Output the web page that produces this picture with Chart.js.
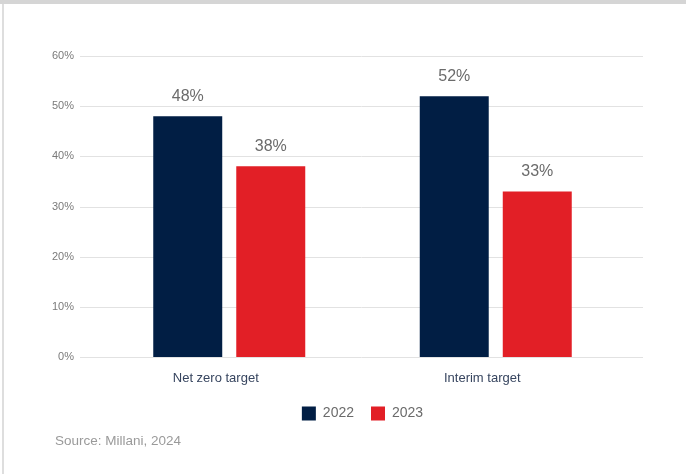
<!DOCTYPE html>
<html>
<head>
<meta charset="utf-8">
<script src="https://cdn.jsdelivr.net/npm/chart.js@4.4.1/dist/chart.umd.min.js"></script>
<style>
  html, body { margin: 0; padding: 0; background: #fff; }
  #wrap { position: relative; width: 686px; height: 474px; overflow: hidden; }
  #topBar { position: absolute; left: 0; top: 0; width: 686px; height: 4px; background: #d5d5d5; }
  #leftBar { position: absolute; left: 2px; top: 4px; width: 2px; height: 470px; background: #dedede; }
  #chart { position: absolute; left: 0; top: 0; }
  #source {
    position: absolute; left: 55px; top: 433px;
    font: 13.5px "Liberation Sans", Arial, sans-serif; color: #9a9a9a;
    line-height: 16px; white-space: nowrap;
  }
</style>
</head>
<body>
<div id="wrap">
  <div id="topBar"></div>
  <div id="leftBar"></div>
  <canvas id="chart" width="686" height="474"></canvas>
  <div id="source">Source: Millani, 2024</div>
</div>
<script>
const categories = ["Net zero target", "Interim target"];
const years = ["2022", "2023"];
const values2022 = [48, 52];
const values2023 = [38, 33];
const yTicks = [0, 10, 20, 30, 40, 50, 60];

const NAVY = "#011e44";
const RED = "#e21f26";

Chart.defaults.font.family = '"Liberation Sans", Arial, sans-serif';

// horizontal grid lines, running a bit past the plot area on both sides
const gridLines = {
  id: "gridLines",
  beforeDatasetsDraw(chart) {
    const { ctx, chartArea, scales } = chart;
    ctx.save();
    ctx.strokeStyle = "#e2e2e2";
    ctx.lineWidth = 1;
    yTicks.forEach((v) => {
      const y = Math.round(scales.y.getPixelForValue(v)) + 0.5;
      ctx.beginPath();
      ctx.moveTo(chartArea.left - 16, y);
      ctx.lineTo(chartArea.right + 14, y);
      ctx.stroke();
    });
    ctx.restore();
  },
};

// percentage labels above each bar
const barValues = {
  id: "barValues",
  afterDatasetsDraw(chart) {
    const { ctx } = chart;
    ctx.save();
    ctx.font = '16px "Liberation Sans", Arial, sans-serif';
    ctx.fillStyle = "#6b6b6b";
    ctx.textAlign = "center";
    ctx.textBaseline = "alphabetic";
    chart.data.datasets.forEach((ds, i) => {
      chart.getDatasetMeta(i).data.forEach((bar, j) => {
        ctx.fillText(ds.data[j] + "%", bar.x, bar.y - 15);
      });
    });
    ctx.restore();
  },
};

new Chart(document.getElementById("chart"), {
  type: "bar",
  data: {
    labels: categories,
    datasets: [
      { label: years[0], data: values2022, backgroundColor: NAVY },
      { label: years[1], data: values2023, backgroundColor: RED },
    ],
  },
  options: {
    responsive: false,
    animation: false,
    categoryPercentage: 0.623,
    barPercentage: 0.831,
    layout: { padding: { top: 56, right: 57, bottom: 43.5, left: 0 } },
    plugins: {
      tooltip: { enabled: false },
      legend: {
        position: "bottom",
        fullSize: false,
        labels: {
          boxWidth: 14,
          boxHeight: 14,
          padding: 17,
          color: "#6b6b6b",
          font: { size: 14 },
        },
      },
    },
    scales: {
      x: {
        grid: { display: false, drawTicks: false },
        border: { display: false },
        ticks: {
          color: "#37455f",
          font: { size: 13 },
          padding: 13.5,
          labelOffset: -13.5,
        },
        afterFit(scale) {
          scale.height = 32.5;
        },
      },
      y: {
        min: 0,
        max: 60,
        grid: { display: false, drawTicks: false },
        border: { display: false },
        ticks: {
          stepSize: 10,
          color: "#7a7a7a",
          font: { size: 11 },
          padding: 22,
          callback: (v) => v + "%",
        },
        afterFit(scale) {
          scale.width = 96;
        },
      },
    },
  },
  plugins: [gridLines, barValues],
});
</script>
</body>
</html>
